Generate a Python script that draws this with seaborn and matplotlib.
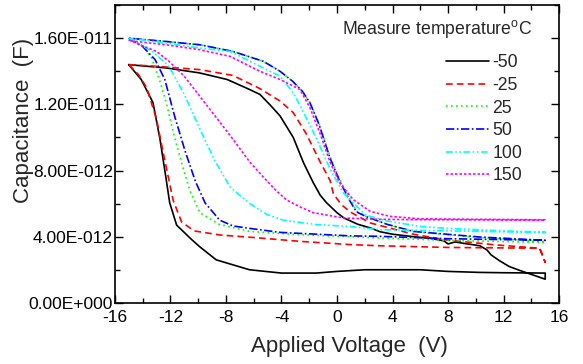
import pandas as pd
import matplotlib
matplotlib.use('Agg')
import matplotlib.pyplot as plt
import seaborn as sns
from matplotlib.lines import Line2D
from matplotlib.ticker import FixedLocator, FuncFormatter

temps = ['-50', '-25', '25', '50', '100', '150']
colors = ['black', '#ff0000', '#00ff00', '#0000ff', '#00ffff', '#ff00ff']

# capacitance values in units of 1e-12 F
# forward sweep -15 V -> 15 V, then reverse sweep 15 V -> -15 V
v_fwd_m50 = [-15.0, -14.1, -13.25, -12.75, -12.3, -12.05, -11.55, -10.5, -9.9, -8.7, -6.3, -4.0, -1.5, 0.0, 2.0, 4.0, 6.0, 8.0, 10.3, 12.0, 15.0]
c_fwd_m50 = [14.4, 13.5, 12.1, 9.9, 7.45, 6.05, 4.7, 3.85, 3.4, 2.6, 2.0, 1.8, 1.8, 1.9, 2.0, 2.0, 2.0, 1.9, 1.84, 1.82, 1.8]
v_rev_m50 = [15.0, 14.0, 13.2, 12.4, 11.7, 11.1, 10.8, 10.3, 9.5, 8.5, 8.0, 7.7, 6.7, 5.5, 4.0, 3.1, 2.4, 1.5, 0.5, 0.0, -0.75, -1.2, -1.7, -2.4, -3.15, -4.1, -4.8, -5.55, -6.3, -7.9, -9.9, -12.3, -15.0]
c_rev_m50 = [1.43, 1.72, 1.95, 2.2, 2.55, 2.9, 3.2, 3.45, 3.55, 3.68, 3.56, 3.75, 3.9, 4.0, 4.15, 4.3, 4.53, 4.75, 5.13, 5.45, 6.05, 6.5, 7.25, 8.45, 10.0, 11.3, 11.95, 12.6, 12.9, 13.5, 13.9, 14.2, 14.4]

v_fwd_m25 = [-15.0, -14.3, -13.7, -13.0, -12.4, -11.8, -11.2, -10.3, -8.4, -6.0, -2.7, 1.0, 3.1, 8.0, 12.0, 14.6, 15.0]
c_fwd_m25 = [14.4, 13.8, 13.0, 11.1, 8.6, 6.2, 4.9, 4.35, 4.1, 3.95, 3.72, 3.52, 3.45, 3.35, 3.32, 3.3, 2.45]
v_rev_m25 = [14.6, 11.5, 7.9, 5.5, 2.4, 0.94, 0.3, -0.26, -0.5, -1.2, -2.2, -3.15, -4.1, -5.55, -7.5, -9.9, -13.0, -15.0]
c_rev_m25 = [3.3, 3.5, 3.8, 4.15, 4.83, 5.5, 5.95, 6.6, 7.4, 8.5, 10.2, 11.5, 12.2, 12.95, 13.75, 14.1, 14.3, 14.4]

v_fwd_25 = [-15.0, -13.95, -13.35, -12.75, -12.27, -11.7, -11.1, -10.6, -9.87, -8.5, -6.3, -2.7, 1.0, 3.1, 7.9, 15.0]
c_fwd_25 = [16.0, 15.5, 14.8, 13.4, 12.0, 10.0, 8.2, 6.8, 5.45, 4.75, 4.32, 4.12, 4.0, 3.92, 3.78, 3.65]
v_rev_25 = [15.0, 10.3, 5.5, 3.6, 2.14, 1.4, 0.94, 0.2, -0.5, -1.3, -1.95, -2.5, -3.2, -4.1, -5.3, -7.5, -9.87, -12.3, -15.0]
c_rev_25 = [3.7, 3.95, 4.3, 4.75, 5.2, 5.55, 6.25, 7.45, 8.85, 10.85, 12.1, 12.8, 13.4, 14.0, 14.6, 15.2, 15.6, 15.8, 16.0]

v_fwd_50 = [-15.0, -14.0, -13.1, -12.4, -11.7, -10.95, -10.2, -9.5, -8.45, -7.5, -6.27, -4.1, -2.67, 0.94, 3.1, 7.9, 15.0]
c_fwd_50 = [16.0, 15.5, 14.7, 13.5, 11.3, 9.2, 7.35, 6.04, 5.0, 4.65, 4.5, 4.26, 4.2, 4.05, 4.02, 3.88, 3.78]
v_rev_50 = [15.0, 10.3, 5.5, 3.6, 2.14, 1.4, 0.94, 0.2, -0.5, -1.3, -1.95, -2.5, -3.2, -4.1, -5.3, -7.5, -9.87, -12.3, -15.0]
c_rev_50 = [3.78, 3.98, 4.32, 4.75, 5.2, 5.5, 6.15, 7.35, 8.75, 10.8, 12.1, 12.8, 13.4, 14.0, 14.6, 15.2, 15.6, 15.8, 16.0]

v_fwd_100 = [-15.0, -13.3, -12.1, -11.0, -9.87, -8.8, -7.7, -6.27, -5.07, -3.87, -1.46, 0.94, 3.1, 10.3, 15.0]
c_fwd_100 = [16.0, 15.2, 14.3, 12.6, 10.5, 8.6, 7.0, 6.0, 5.35, 5.0, 4.73, 4.62, 4.42, 4.32, 4.25]
v_rev_100 = [15.0, 12.7, 8.0, 6.0, 3.6, 2.1, 1.66, 0.46, -0.5, -1.46, -2.4, -3.15, -4.1, -5.55, -7.7, -9.87, -12.3, -15.0]
c_rev_100 = [4.28, 4.33, 4.5, 4.62, 4.95, 5.3, 5.64, 6.65, 8.1, 9.9, 11.5, 12.7, 13.7, 14.3, 15.2, 15.4, 15.7, 16.0]

v_fwd_150 = [-15.0, -13.9, -13.0, -12.1, -11.0, -9.8, -8.6, -7.5, -6.27, -5.3, -4.4, -3.6, -2.67, -1.7, 0.46, 3.0, 5.5, 15.0]
c_fwd_150 = [15.9, 15.5, 15.2, 14.6, 13.7, 12.4, 11.1, 9.9, 8.5, 7.6, 6.8, 6.2, 5.8, 5.45, 5.13, 5.05, 5.03, 5.0]
v_rev_150 = [15.0, 6.0, 3.8, 2.4, 1.17, 0.2, -0.5, -1.2, -1.95, -2.67, -4.1, -5.55, -7.7, -9.87, -12.3, -15.0]
c_rev_150 = [5.02, 5.08, 5.23, 5.53, 6.24, 7.25, 8.5, 10.2, 11.8, 12.9, 13.5, 14.0, 14.9, 15.3, 15.6, 15.85]

x_major = [-16, -12, -8, -4, 0, 4, 8, 12, 16]
x_minor = [-14, -10, -6, -2, 2, 6, 10, 14]
y_major = [0, 4e-12, 8e-12, 1.2e-11, 1.6e-11]
y_minor = [2e-12, 6e-12, 1e-11, 1.4e-11, 1.8e-11]

curves = {
    '-50': (v_fwd_m50 + v_rev_m50, c_fwd_m50 + c_rev_m50),
    '-25': (v_fwd_m25 + v_rev_m25, c_fwd_m25 + c_rev_m25),
    '25': (v_fwd_25 + v_rev_25, c_fwd_25 + c_rev_25),
    '50': (v_fwd_50 + v_rev_50, c_fwd_50 + c_rev_50),
    '100': (v_fwd_100 + v_rev_100, c_fwd_100 + c_rev_100),
    '150': (v_fwd_150 + v_rev_150, c_fwd_150 + c_rev_150),
}

frames = []
for t in temps:
    v, c = curves[t]
    frames.append(pd.DataFrame({'V': v, 'C': [x * 1e-12 for x in c], 'T': t}))
df = pd.concat(frames, ignore_index=True)

dashes = {'-50': '', '-25': (4, 2.5), '25': (1, 2), '50': (5, 1.5, 1, 1.5),
          '100': (4, 1.5, 1, 1.5, 1, 1.5), '150': (1.5, 1.2)}
palette = dict(zip(temps, colors))

sns.set_style('ticks')
plt.rcParams['font.family'] = ['Liberation Sans', 'DejaVu Sans']
plt.rcParams['mathtext.fontset'] = 'custom'
plt.rcParams['mathtext.rm'] = 'Liberation Sans'
plt.rcParams['axes.unicode_minus'] = False

fig = plt.figure(figsize=(5.83, 3.64), dpi=100)
ax = fig.add_axes([0.197, 0.168, 0.762, 0.818])

sns.lineplot(data=df, x='V', y='C', hue='T', style='T', hue_order=temps, style_order=temps,
             palette=palette, dashes=dashes, sort=False, estimator=None, legend=False,
             lw=1.2, ax=ax)

ax.set_xlim(-16, 16)
ax.set_ylim(0, 1.8e-11)
ax.xaxis.set_major_locator(FixedLocator(x_major))
ax.xaxis.set_minor_locator(FixedLocator(x_minor))
ax.yaxis.set_major_locator(FixedLocator(y_major))
ax.yaxis.set_minor_locator(FixedLocator(y_minor))


def sci(v, pos):
    m, e = f'{v:.2E}'.split('E')
    return f'{m}E{int(e):+04d}'


ax.yaxis.set_major_formatter(FuncFormatter(sci))
ax.tick_params(which='both', direction='in', top=True, right=True, width=1, colors='black')
ax.tick_params(which='major', length=6, labelsize=12.5)
ax.tick_params(which='minor', length=3.5)
ax.tick_params(axis='y', pad=1.5)
ax.tick_params(axis='x', pad=5)
for s in ax.spines.values():
    s.set_linewidth(1.2)
    s.set_color('black')

ax.set_xlabel('Applied Voltage  (V)', fontsize=16)
ax.set_ylabel('Capacitance  (F)', fontsize=16)
ax.xaxis.set_label_coords(0.529, -0.112)
ax.yaxis.set_label_coords(-0.182, 0.614)

handles = [Line2D([], [], color=palette[t], lw=1.2, dashes=dashes[t] if dashes[t] else (None, None))
           for t in temps]
ax.legend(handles, temps, loc='upper left', bbox_to_anchor=(0.745, 0.835), frameon=False,
          fontsize=12.7, handlelength=2.45, handletextpad=0.2, labelspacing=0.32,
          borderpad=0, borderaxespad=0)
ax.text(0.511, 0.919, 'Measure temperature$^\\mathrm{o}$C', transform=ax.transAxes,
        fontsize=12.7, va='center', ha='left')

fig.savefig('out.png', dpi=100)
